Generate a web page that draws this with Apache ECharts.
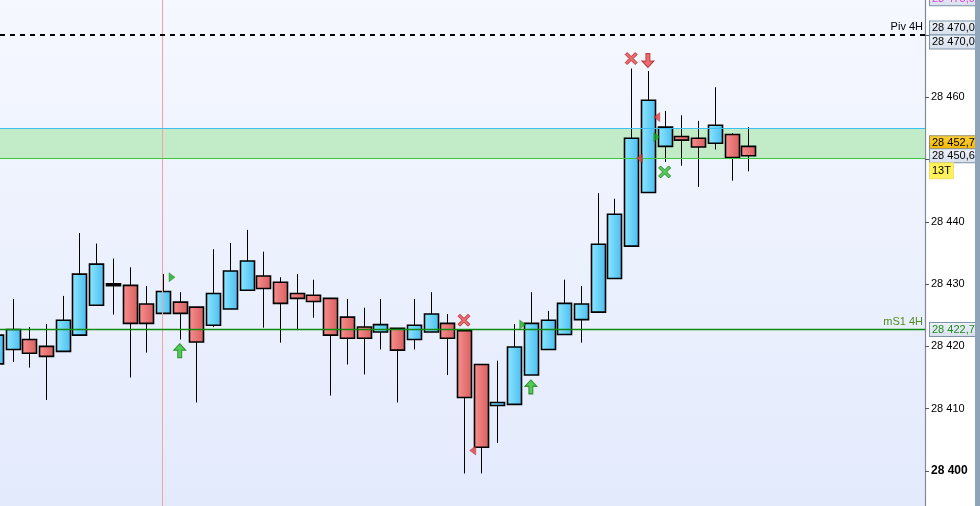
<!DOCTYPE html>
<html>
<head>
<meta charset="utf-8">
<script src="https://cdn.jsdelivr.net/npm/echarts@6/dist/echarts.min.js"></script>
<style>html,body{margin:0;padding:0;background:#fff}#c{width:980px;height:506px}</style>
</head>
<body>
<div id="c"></div>
<script>
// ---- data (candle index -1 .. 44) ----
const firstIndex = -1;
const opens  = [28417.2,28419.5,28421.1,28420.0,28419.2,28421.8,28426.6,28429.9,28429.8,28426.8,28425.3,28427.1,28426.3,28423.4,28426.0,28429.0,28431.3,28430.3,28428.5,28428.2,28427.7,28424.7,28423.1,28422.3,28422.9,28421.1,28422.3,28423.7,28422.5,28417.1,28410.5,28410.7,28415.4,28419.5,28421.9,28424.3,28425.5,28430.9,28436.1,28444.7,28452.1,28453.7,28453.4,28452.6,28454.0,28452.1];
const closes = [28421.8,28422.7,28418.9,28418.4,28424.2,28431.6,28433.2,28429.9,28423.7,28423.7,28428.8,28425.3,28420.7,28428.5,28432.1,28433.7,28429.3,28426.9,28427.7,28427.2,28421.8,28421.3,28421.3,28423.5,28419.4,28423.4,28425.2,28421.3,28411.8,28403.8,28411.0,28419.9,28423.7,28424.2,28426.9,28426.8,28436.4,28441.2,28453.4,28459.5,28455.2,28453.1,28452.0,28455.5,28450.3,28450.6];
const highs  = [28421.8,28427.6,28423.1,28423.6,28428.1,28438.2,28436.5,28434.1,28432.7,28429.7,28431.6,28428.7,28426.3,28435.6,28436.6,28438.7,28435.2,28431.1,28431.6,28430.7,28427.7,28427.6,28426.2,28427.6,28422.9,28427.6,28428.7,28425.2,28422.5,28417.1,28417.7,28423.6,28428.7,28425.7,28430.7,28429.7,28444.6,28443.7,28464.6,28464.2,28457.8,28457.1,28456.2,28461.6,28454.2,28455.2];
const lows   = [28416.9,28417.5,28416.6,28411.4,28419.2,28421.8,28426.6,28425.1,28415.0,28419.0,28425.3,28421.1,28411.0,28423.1,28426.0,28429.0,28423.0,28420.6,28422.6,28424.6,28412.1,28417.1,28415.5,28419.5,28411.0,28419.5,28422.3,28415.4,28399.6,28399.6,28404.5,28410.7,28415.4,28419.5,28421.9,28420.6,28425.5,28430.9,28436.1,28444.7,28449.6,28449.0,28445.6,28451.6,28446.6,28448.1];

// signal markers [candle position, price]
const redCrosses   = [[37.0,28466.2],[27.0,28424.2]];
const greenCrosses = [[39.0,28448.0]];
const redDownArrows = [[38.0,28465.9]];
const greenUpArrows = [[10.0,28419.3],[31.0,28413.5]];
const greenRightTris = [[9.54,28431.1],[30.51,28423.5],[38.53,28453.6]];
const redLeftTris = [[38.53,28456.8],[37.49,28450.2],[27.52,28403.3]];

// levels
const pivot4H = 28470.0;
const mS1_4H = 28422.7;
const zoneLow = 28450.2, zoneHigh = 28455.05;
const lastPrice = 28450.6;
const markPrice = 28452.7;
const topLevel = 28475.0;
const cursorPos = 8.95;
const shownTicks = [28400,28410,28420,28430,28440,28460];
const timerText = '13T';

const candleData = opens.map((o,k)=>[k+firstIndex,o,closes[k],lows[k],highs[k]]);

function fmt(v, dec){
  let s = dec ? v.toFixed(1).replace('.',',') : String(Math.round(v));
  return s.replace(/^(\d+)(\d{3})/, '$1 $2');
}

const chart = echarts.init(document.getElementById('c'), null, {renderer:'canvas'});
const FONT = '"Liberation Sans", Arial, sans-serif';
function boxStyle(){
  return {
    backgroundColor: new echarts.graphic.LinearGradient(0,0,0,1,[{offset:0,color:'#eef2f9'},{offset:1,color:'#d6dfec'}]),
    borderColor:'#7f93a8', borderWidth:1, padding:[1,1,0,2], fontSize:11, fontFamily:FONT, color:'#000', lineHeight:12
  };
}
function priceLabel(text, extra){
  return Object.assign({show:true, position:'end', distance:5, formatter:text}, boxStyle(), extra||{});
}
function hidden(){ return {color:'rgba(0,0,0,0)',width:0,type:'solid'}; }

const redGrad = new echarts.graphic.LinearGradient(0,0,1,0,[{offset:0,color:'#fa9090'},{offset:1,color:'#d65e5e'}]);
const blueGrad = new echarts.graphic.LinearGradient(0,0,1,0,[{offset:0,color:'#90e8ff'},{offset:1,color:'#48bcf0'}]);

const XPATH = 'path://M2,0 L6,4 L10,0 L12,2 L8,6 L12,10 L10,12 L6,8 L2,12 L0,10 L4,6 L0,2 Z';

const option = {
  backgroundColor:'#ffffff',
  animation:false,
  grid:{left:0,right:55,top:0,bottom:0,show:true,borderWidth:0,
    backgroundColor:new echarts.graphic.LinearGradient(0,0,0,1,[{offset:0,color:'#f5f8ff'},{offset:1,color:'#e3eafc'}])},
  xAxis:{type:'value',min:-0.748,max:54.57,show:false},
  yAxis:{type:'value',position:'right',min:28394.38,max:28475.6,minInterval:10,maxInterval:10,
    splitLine:{show:false},
    axisLine:{show:true,onZero:false,lineStyle:{color:'#7d8b99',width:1.2}},
    axisTick:{show:true,length:4,lineStyle:{color:'#556'}},
    axisLabel:{margin:6,fontSize:11,fontFamily:FONT,color:'#000',showMinLabel:false,showMaxLabel:false,
      formatter:function(v){
        const r = Math.round(v);
        if(Math.abs(v-r)>0.01 || shownTicks.indexOf(r)<0) return '';
        return r===28400 ? '{b|'+fmt(r)+'}' : fmt(r);
      },
      rich:{b:{fontSize:12,fontWeight:'bold',fontFamily:FONT,color:'#000'}}
    }
  },
  graphic:[
    {type:'rect',left:975,top:0,shape:{x:0,y:0,width:5,height:506},style:{fill:'#8fa3b9'},z:100}
  ],
  series:[
    {
      type:'line',data:[],z:1,silent:true,
      markArea:{silent:true,itemStyle:{color:'#c2ebc8'},data:[[{yAxis:zoneLow},{yAxis:zoneHigh}]]},
      markLine:{silent:true,symbol:['none','none'],animation:false,
        data:[
          {xAxis:cursorPos,lineStyle:{color:'#f4a3a3',width:1,type:'solid'},label:{show:false}},
          {yAxis:zoneHigh,lineStyle:{color:'#3cc0f2',width:1.2,type:'solid'},label:{show:false}},
          {yAxis:zoneLow,lineStyle:{color:'#38c838',width:1.2,type:'solid'},label:{show:false}},
          {yAxis:pivot4H,lineStyle:{color:'#000',width:2,type:[5,5]},
            label:{show:true,position:'insideEndTop',distance:[2,2],formatter:'Piv 4H',fontSize:11,fontFamily:FONT,color:'#000'}},
          {yAxis:mS1_4H,lineStyle:{color:'#0c8a0c',width:1.3,type:'solid'},
            label:{show:true,position:'insideEndTop',distance:[2,2],formatter:'mS1 4H',fontSize:11,fontFamily:FONT,color:'#4f8a1e'}}
        ]}
    },
    {
      type:'line',data:[],z:6,silent:true,
      markLine:{silent:true,symbol:['none','none'],animation:false,
        data:[
          {yAxis:topLevel,lineStyle:hidden(),label:priceLabel(fmt(topLevel,true),{color:'#e03ce0',offset:[0,-5]})},
          {yAxis:pivot4H,lineStyle:hidden(),label:priceLabel(fmt(pivot4H,true),{offset:[0,-7]})},
          {yAxis:pivot4H,lineStyle:hidden(),label:priceLabel(fmt(pivot4H,true),{offset:[0,7]})},
          {yAxis:markPrice,lineStyle:hidden(),label:priceLabel(fmt(markPrice,true),{
            backgroundColor:new echarts.graphic.LinearGradient(0,0,0,1,[{offset:0,color:'#ffd23a'},{offset:1,color:'#f0b400'}]),borderColor:'#9a8a60'})},
          {yAxis:lastPrice,lineStyle:hidden(),label:priceLabel(fmt(lastPrice,true))},
          {yAxis:lastPrice,lineStyle:hidden(),label:priceLabel(timerText,{offset:[0,15],
            backgroundColor:'#fff25a',borderColor:'#f0e070',padding:[2,2,1,2]})},
          {yAxis:mS1_4H,lineStyle:hidden(),label:priceLabel(fmt(mS1_4H,true),{color:'#1e8a1e'})}
        ]}
    },
    {
      type:'custom',z:3,clip:true,data:candleData,encode:{x:0,y:[1,2,3,4]},
      renderItem:function(params,api){
        const x=api.value(0),o=api.value(1),c=api.value(2),l=api.value(3),h=api.value(4);
        const pO=api.coord([x,o]),pC=api.coord([x,c]),pL=api.coord([x,l]),pH=api.coord([x,h]);
        const w=Math.round(api.size([1,0])[0]*0.84);
        const cx=Math.round(pO[0])+0.5;
        const top=Math.min(pO[1],pC[1]),bot=Math.max(pO[1],pC[1]);
        const doji=Math.abs(c-o)<0.05;
        const fill = doji ? '#000' : (c>o ? blueGrad : redGrad);
        return {type:'group',children:[
          {type:'line',shape:{x1:cx,y1:pH[1],x2:cx,y2:pL[1]},style:{stroke:'#000',lineWidth:1}},
          {type:'rect',shape:{x:cx-w/2,y:doji?top-1:top,width:w,height:doji?2:Math.max(bot-top,1)},
            style:{fill:fill,stroke:'#000',lineWidth:1.6}}
        ]};
      }
    },
    {type:'scatter',z:5,data:redCrosses,symbol:XPATH,
      symbolSize:12,itemStyle:{color:'#e84a4a',borderColor:'#b02020',borderWidth:1}},
    {type:'scatter',z:5,data:greenCrosses,symbol:XPATH,
      symbolSize:12,itemStyle:{color:'#30c030',borderColor:'#147a14',borderWidth:1}},
    {type:'scatter',z:5,data:redDownArrows,symbol:'path://M4,0 L8,0 L8,7 L12,7 L6,13 L0,7 L4,7 Z',
      symbolSize:[12,14],itemStyle:{color:'#ec4a4a',borderColor:'#a82020',borderWidth:1}},
    {type:'scatter',z:5,data:greenUpArrows,symbol:'path://M6,0 L12,6 L8,6 L8,13 L4,13 L4,6 L0,6 Z',
      symbolSize:[12,14],itemStyle:{color:'#30c030',borderColor:'#127a12',borderWidth:1}},
    {type:'scatter',z:5,data:greenRightTris,symbol:'path://M0,0 L6,4 L0,8 Z',
      symbolSize:[6,9],itemStyle:{color:'#1eaa1e',borderColor:'#128012',borderWidth:0.5}},
    {type:'scatter',z:5,data:redLeftTris,symbol:'path://M6,0 L0,4 L6,8 Z',
      symbolSize:[6,9],itemStyle:{color:'#e03c3c',borderColor:'#b02020',borderWidth:0.5}}
  ]
};
chart.setOption(option);
</script>
</body>
</html>
